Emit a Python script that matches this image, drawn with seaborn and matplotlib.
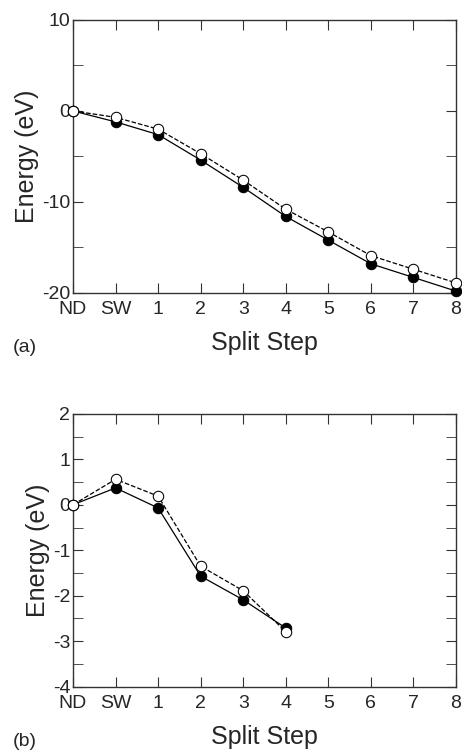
import numpy as np
import pandas as pd
import seaborn as sns
import matplotlib.pyplot as plt

# split steps along the x axis
steps = ['ND', 'SW', '1', '2', '3', '4', '5', '6', '7', '8']

# panel (a) energies (eV)
a_filled = [0.0, -1.2, -2.6, -5.4, -8.4, -11.6, -14.2, -16.8, -18.3, -19.8]
a_open = [0.0, -0.7, -2.0, -4.7, -7.6, -10.8, -13.3, -15.9, -17.4, -18.9]

# panel (b) energies (eV), only up to step 4
b_filled = [0.0, 0.37, -0.07, -1.57, -2.09, -2.71]
b_open = [0.0, 0.56, 0.19, -1.35, -1.89, -2.79]

sns.set_style('ticks')
plt.rcParams['font.family'] = ['Liberation Sans', 'DejaVu Sans']

fig = plt.figure(figsize=(4.62, 7.53), dpi=100)


def panel(ax, filled, opened, ylim, major, minor, tag):
    df = pd.DataFrame({
        'step': list(range(len(filled))) * 2,
        'energy': filled + opened,
        'kind': ['filled'] * len(filled) + ['open'] * len(opened),
    })
    sns.lineplot(data=df[df.kind == 'filled'], x='step', y='energy', ax=ax,
                 color='black', lw=0.9, marker='o', markersize=7.5,
                 markerfacecolor='black', markeredgecolor='black', clip_on=False, zorder=3)
    sns.lineplot(data=df[df.kind == 'open'], x='step', y='energy', ax=ax,
                 color='black', lw=0.9, ls='--', marker='o', markersize=7.5,
                 markerfacecolor='white', markeredgecolor='black', clip_on=False, zorder=4)
    ax.set_xlim(0, len(steps) - 1)
    ax.set_ylim(*ylim)
    ax.set_xticks(range(len(steps)))
    ax.set_xticklabels(steps)
    majors = np.arange(ylim[0], ylim[1] + 1e-9, major)
    ax.set_yticks(majors)
    ax.set_yticks(np.arange(ylim[0], ylim[1] + 1e-9, minor), minor=True)
    ax.set_yticklabels([f'{v:g}' for v in majors])
    ax.tick_params(which='both', direction='in', top=True, right=True,
                   labelsize=14, color='#333333', length=7)
    ax.tick_params(axis='x', pad=6)
    ax.tick_params(axis='y', pad=2)
    for s in ax.spines.values():
        s.set_color('#333333')
        s.set_linewidth(1.0)
    ax.set_xlabel('Split Step', fontsize=18, labelpad=9)
    ax.set_ylabel('Energy (eV)', fontsize=18, labelpad=2)
    ax.text(-0.157, -0.2, tag, transform=ax.transAxes, fontsize=14,
            ha='left', va='center')
    ax.grid(False)


ax1 = fig.add_axes([0.158, 0.611, 0.829, 0.3625])
panel(ax1, a_filled, a_open, (-20, 10), 10, 5, '(a)')

ax2 = fig.add_axes([0.158, 0.088, 0.829, 0.3625])
panel(ax2, b_filled, b_open, (-4, 2), 1, 0.5, '(b)')

fig.savefig('out.png', dpi=100)
